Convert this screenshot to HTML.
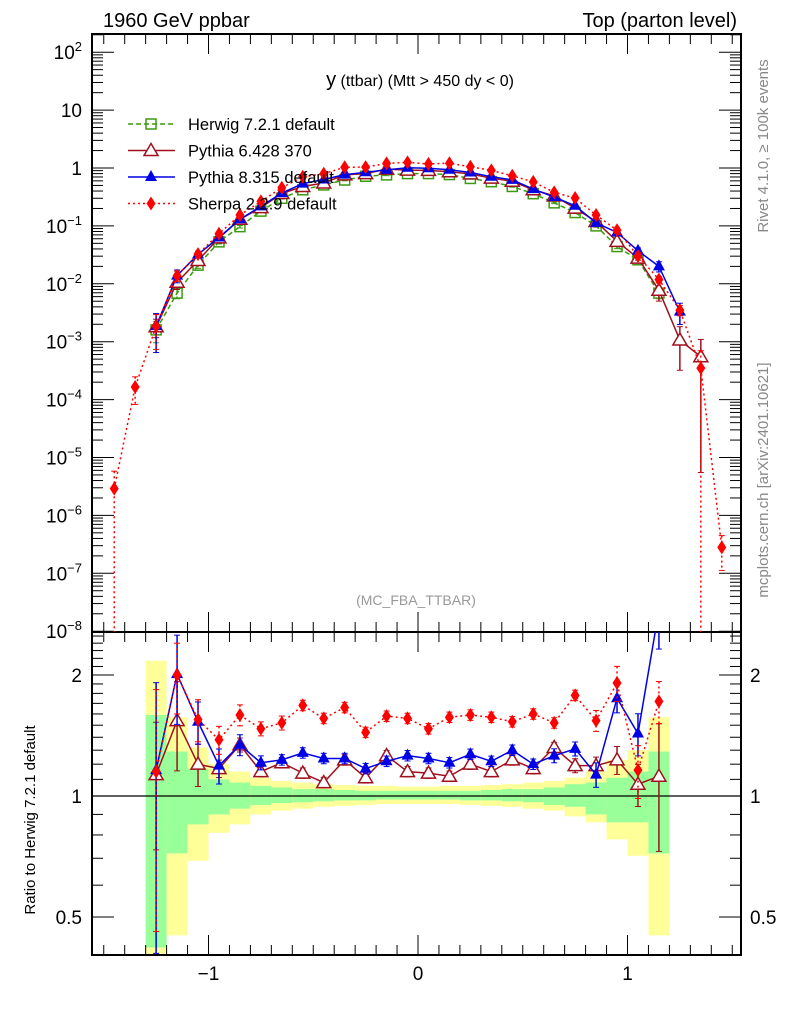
<!DOCTYPE html>
<html><head><meta charset="utf-8"><style>
body{margin:0;background:#fff;}
svg{display:block;font-family:"Liberation Sans",sans-serif;}
</style></head><body>
<svg id="c" width="786" height="1024" viewBox="0 0 786 1024" xmlns="http://www.w3.org/2000/svg">
<defs>
<clipPath id="cm"><rect x="92" y="34" width="649" height="598"/></clipPath>
<clipPath id="cr"><rect x="92" y="632" width="649" height="323"/></clipPath>
</defs>
<text x="103" y="27" font-size="20">1960 GeV ppbar</text>
<text x="737" y="27" font-size="20" text-anchor="end">Top (parton level)</text>
<text x="420" y="86" font-size="16" text-anchor="middle"><tspan font-size="20">y</tspan> (ttbar) (Mtt &gt; 450 dy &lt; 0)</text>
<text x="416" y="605" font-size="14" fill="#999" text-anchor="middle">(MC_FBA_TTBAR)</text>
<text transform="translate(768,146) rotate(-90)" font-size="15" fill="#888" text-anchor="middle">Rivet 4.1.0, ≥ 100k events</text>
<text transform="translate(768,480) rotate(-90)" font-size="15" fill="#888" text-anchor="middle">mcplots.cern.ch [arXiv:2401.10621]</text>
<text transform="translate(35,820) rotate(-90)" font-size="15" text-anchor="middle">Ratio to Herwig 7.2.1 default</text>
<g id="bands" clip-path="url(#cr)"></g>
<g id="axes"></g>
<g id="mainmarks" clip-path="url(#cm)"></g>
<g id="ratiomarks" clip-path="url(#cr)"></g>
<g id="legend"></g>
</svg>
<script>
// ---- data ----
const binCenters = [-1.25,-1.15,-1.05,-0.95,-0.85,-0.75,-0.65,-0.55,-0.45,-0.35,-0.25,-0.15,-0.05,0.05,0.15,0.25,0.35,0.45,0.55,0.65,0.75,0.85,0.95,1.05,1.15];
const herwigVals = [0.0016,0.0069,0.021,0.053,0.097,0.18,0.30,0.42,0.51,0.62,0.72,0.76,0.80,0.80,0.77,0.66,0.58,0.48,0.36,0.25,0.17,0.10,0.044,0.026,0.0069];
const pythia6Ratio = [1.13,1.54,1.20,1.17,1.34,1.15,1.21,1.14,1.08,1.23,1.11,1.26,1.15,1.14,1.12,1.20,1.15,1.23,1.17,1.32,1.19,1.19,1.23,1.07,1.12];
const pythia8Ratio = [1.16,2.01,1.53,1.19,1.34,1.21,1.23,1.28,1.24,1.24,1.17,1.22,1.26,1.24,1.21,1.27,1.22,1.30,1.20,1.26,1.31,1.13,1.75,1.43,2.9];
const sherpaRatio = [1.15,2.0,1.55,1.38,1.59,1.47,1.52,1.68,1.56,1.66,1.44,1.58,1.56,1.47,1.57,1.59,1.57,1.53,1.60,1.52,1.78,1.54,1.91,1.16,1.72];
const pythia6RelErr = [0.35,0.25,0.12,0.05,0.04,0.03,0.03,0.03,0.03,0.03,0.03,0.03,0.03,0.03,0.03,0.03,0.03,0.03,0.03,0.03,0.04,0.05,0.08,0.12,0.35];
const pythia8RelErr = [0.65,0.25,0.12,0.10,0.06,0.04,0.03,0.03,0.03,0.03,0.03,0.03,0.03,0.03,0.03,0.03,0.03,0.03,0.03,0.04,0.04,0.07,0.08,0.12,0.2];
const sherpaRelErr = [0.6,0.2,0.12,0.08,0.06,0.04,0.04,0.03,0.03,0.03,0.03,0.03,0.03,0.03,0.03,0.03,0.03,0.03,0.03,0.03,0.03,0.06,0.1,0.15,0.12];
const herwigRelErr = [0.4,0.2,0.12,0.08,0.05,0.04,0.03,0.03,0.03,0.03,0.03,0.03,0.03,0.03,0.03,0.03,0.03,0.03,0.03,0.03,0.04,0.05,0.08,0.1,0.2];
// extra tail points (main panel only)
const pythia6TailX = [1.25,1.35];
const pythia6TailVals = [0.00107,0.00055];
const pythia8TailX = [1.25];
const pythia8TailVals = [0.0033];
const sherpaTailX = [-1.45,-1.35,1.25,1.35,1.45];
const sherpaTailVals = [2.9e-6,1.65e-4,0.0035,0.00035,2.8e-7];
// Herwig uncertainty bands (ratio)
const greenUp = [1.59,1.29,1.17,1.10,1.08,1.06,1.05,1.04,1.04,1.035,1.03,1.03,1.03,1.03,1.03,1.03,1.035,1.04,1.04,1.05,1.07,1.08,1.11,1.15,1.29];
const greenDn = [0.42,0.72,0.85,0.90,0.93,0.95,0.96,0.965,0.97,0.975,0.975,0.98,0.98,0.98,0.98,0.975,0.975,0.97,0.965,0.95,0.94,0.90,0.86,0.86,0.72];
const yellowUp = [2.17,1.57,1.32,1.20,1.15,1.11,1.09,1.08,1.07,1.065,1.06,1.06,1.055,1.055,1.06,1.06,1.065,1.07,1.08,1.09,1.11,1.15,1.23,1.30,1.57];
const yellowDn = [0.3,0.45,0.69,0.81,0.85,0.90,0.92,0.93,0.94,0.945,0.95,0.955,0.955,0.955,0.955,0.95,0.945,0.94,0.93,0.92,0.89,0.86,0.78,0.71,0.45];
const mainTicks = [2,1,0,-1,-2,-3,-4,-5,-6,-7,-8];
const ratioTicks = [2,1,0.5];
const xTicks = [-1,0,1];

// ---- scales ----
const X = v => 418 + 209.5*v;
const Y = v => 168 - 57.9*Math.log10(v);
const R = v => 796 - 402*Math.log10(v);
const NS = "http://www.w3.org/2000/svg";
function mk(parent, tag, attrs){const e=document.createElementNS(NS,tag);for(const k in attrs)e.setAttribute(k,attrs[k]);parent.appendChild(e);return e;}
const axes=document.getElementById('axes'), bands=document.getElementById('bands');
const mainG=document.getElementById('mainmarks'), ratG=document.getElementById('ratiomarks'), leg=document.getElementById('legend');

// bands
binCenters.forEach((c,i)=>{
  const x0=X(c-0.05), w=X(c+0.05)-x0;
  let r=mk(bands,'rect',{x:x0,y:R(yellowUp[i]),width:w,height:R(yellowDn[i])-R(yellowUp[i]),fill:'#ffff99'});
  
  
  r=mk(bands,'rect',{x:x0,y:R(greenUp[i]),width:w,height:R(greenDn[i])-R(greenUp[i]),fill:'#99ff99'});
  
  
});

// frames
let f=mk(axes,'rect',{x:92,y:34,width:649,height:598,fill:'none',stroke:'#000','stroke-width':2});


f=mk(axes,'rect',{x:92,y:632,width:649,height:323,fill:'none',stroke:'#000','stroke-width':2});


let l=mk(axes,'line',{x1:92,x2:741,y1:R(1),y2:R(1),stroke:'#000','stroke-width':1.3});



// x ticks
for(let k=-15;k<=15;k++){
  const v=k/10, x=X(v); if(x<93||x>740) continue;
  const major=(k%10===0), len=major?20:10;
  [[34,1],[632,-1],[632,1],[955,-1]].forEach(([y0,d])=>{mk(axes,'line',{x1:x,x2:x,y1:y0,y2:y0+d*len,stroke:'#000','stroke-width':1});});
}
xTicks.forEach(v=>{
  const t=mk(axes,'text',{x:X(v),y:980,'font-size':19,'text-anchor':'middle'});
  t.textContent=v<0?'\u2212'+Math.abs(v):String(v);
  
  
});
// main y ticks
mainTicks.forEach(p=>{
  for(let m=1;m<=9;m++){
    const y=Y(m*Math.pow(10,p)); if(y<34||y>632) continue;
    const len=m===1?22:11;
    mk(axes,'line',{x1:92,x2:92+len,y1:y,y2:y,stroke:'#000','stroke-width':1});
    mk(axes,'line',{x1:741,x2:741-len,y1:y,y2:y,stroke:'#000','stroke-width':1});
  }
  const t=mk(axes,'text',{x:82,y:Y(Math.pow(10,p))+7,'font-size':19,'text-anchor':'end'});
  if(p===0) t.textContent='1'; else if(p===1) t.textContent='10';
  else { t.textContent='10'; const s=mk(t,'tspan',{dy:-8,'font-size':13}); s.textContent=p<0?'\u2212'+(-p):String(p); }
  
  
});
// ratio y ticks
for(let v=0.4;v<=2.6;v+=0.1){
  const y=R(v); if(y<633||y>954) continue;
  const maj=Math.abs(v-1)<1e-6||Math.abs(v-2)<1e-6||Math.abs(v-0.5)<1e-6;
  const len=maj?22:11;
  mk(axes,'line',{x1:92,x2:92+len,y1:y,y2:y,stroke:'#000','stroke-width':1});
  mk(axes,'line',{x1:741,x2:741-len,y1:y,y2:y,stroke:'#000','stroke-width':1});
}
ratioTicks.forEach(v=>{
  [[82,'end'],[750,'start']].forEach(([x,a])=>{
    const t=mk(axes,'text',{x:x,y:R(v)+7,'font-size':19,'text-anchor':a});
    t.textContent=String(v);
    
    
  });
});

// markers
function marker(g,type,x,y,col){
  if(type==='square') return mk(g,'rect',{x:x-5,y:y-5,width:10,height:10,fill:'none',stroke:col,'stroke-width':1.5});
  if(type==='otri') return mk(g,'polygon',{points:`${x},${y-7} ${x-7},${y+5} ${x+7},${y+5}`,fill:'#fff',stroke:col,'stroke-width':1.5});
  if(type==='ftri') return mk(g,'polygon',{points:`${x},${y-7} ${x-6},${y+4} ${x+6},${y+4}`,fill:col});
  return mk(g,'polygon',{points:`${x},${y-7} ${x+4.5},${y} ${x},${y+7} ${x-4.5},${y}`,fill:col});
}
function series(name,g,xs,ys,col,dash,type){
  const sg=mk(g,'g',{});
  
  
  const pts=xs.map((x,i)=>X(x)+','+ys[i][0]).join(' ');
  mk(sg,'polyline',{points:pts,fill:'none',stroke:col,'stroke-width':1.5,'stroke-dasharray':dash});
  xs.forEach((x,i)=>{
    const px=X(x); const [y,yt,yb]=ys[i];
    mk(sg,'line',{x1:px,x2:px,y1:yt,y2:yb,stroke:col,'stroke-width':1.5,'stroke-dasharray':dash});
    mk(sg,'line',{x1:px-3,x2:px+3,y1:yt,y2:yt,stroke:col,'stroke-width':1});
    mk(sg,'line',{x1:px-3,x2:px+3,y1:yb,y2:yb,stroke:col,'stroke-width':1});
    const m=marker(sg,type,px,y,col);
    
    
  });
}
function mainPts(vals,errs){return vals.map((v,i)=>[Y(v),Y(v*(1+errs[i])),Y(Math.max(v*(1-errs[i]),1e-12))]);}
const hw='#3c9a10', p6='#a0101e', p8='#0000e6', sh='#ff0000';
// main panel
series('herwig-main',mainG,binCenters,mainPts(herwigVals,herwigRelErr),hw,'5,3','square');
const p6Main=binCenters.map((c,i)=>herwigVals[i]*pythia6Ratio[i]).concat(pythia6TailVals);
const p6Err=pythia6RelErr.concat([0.7,0.99]);
series('pythia6-main',mainG,binCenters.concat(pythia6TailX),mainPts(p6Main,p6Err),p6,'none','otri');
const p8Main=binCenters.map((c,i)=>herwigVals[i]*pythia8Ratio[i]).concat(pythia8TailVals);
series('pythia8-main',mainG,binCenters.concat(pythia8TailX),mainPts(p8Main,pythia8RelErr.concat([0.4])),p8,'none','ftri');
const shX=[sherpaTailX[0],sherpaTailX[1]].concat(binCenters,sherpaTailX.slice(2));
const shMain=[sherpaTailVals[0],sherpaTailVals[1]].concat(binCenters.map((c,i)=>herwigVals[i]*sherpaRatio[i]),sherpaTailVals.slice(2));
const shErr=[1,0.5].concat(sherpaRelErr,[0.2,1,0.6]);
series('sherpa-main',mainG,shX,mainPts(shMain,shErr),sh,'2,3','diamond');
// ratio panel
function ratPts(r,errs){return r.map((v,i)=>[R(v),R(v*(1+errs[i])),R(Math.max(v*(1-errs[i]),0.01))]);}
series('pythia6-ratio',ratG,binCenters,ratPts(pythia6Ratio,pythia6RelErr),p6,'none','otri');
series('pythia8-ratio',ratG,binCenters,ratPts(pythia8Ratio,pythia8RelErr),p8,'none','ftri');
series('sherpa-ratio',ratG,binCenters,ratPts(sherpaRatio,sherpaRelErr),sh,'2,3','diamond');

// legend
const legItems=[['Herwig 7.2.1 default',hw,'5,3','square'],['Pythia 6.428 370',p6,'none','otri'],['Pythia 8.315 default',p8,'none','ftri'],['Sherpa 2.2.9 default',sh,'2,3','diamond']];
legItems.forEach(([lab,col,dash,type],i)=>{
  const y=124+26.5*i;
  const g=mk(leg,'g',{});
  
  
  mk(g,'line',{x1:128,x2:175,y1:y,y2:y,stroke:col,'stroke-width':1.5,'stroke-dasharray':dash});
  marker(g,type,151,y,col);
  const t=mk(g,'text',{x:188,y:y+6,'font-size':16.5});
  t.textContent=lab;
});
</script>
</body></html>
